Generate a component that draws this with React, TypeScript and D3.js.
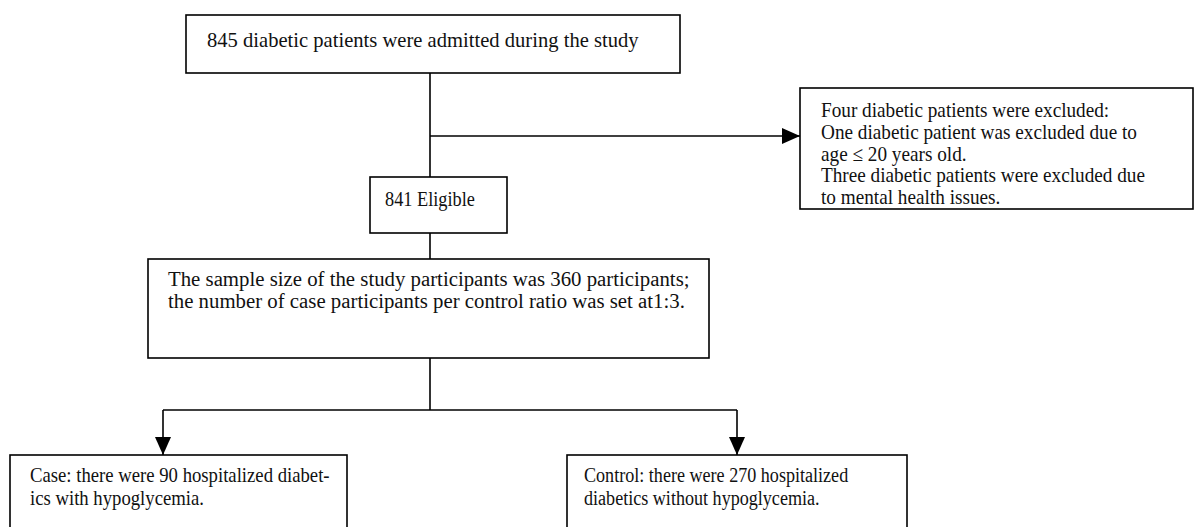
import { useEffect, useRef } from 'react';
import * as d3 from 'd3';

// box texts (one entry per line)
const admitted = ['845 diabetic patients were admitted during the study'];
const excluded = [
  'Four diabetic patients were excluded:',
  'One diabetic patient was excluded due to',
  'age \u2264 20 years old.',
  'Three diabetic patients were excluded due',
  'to mental health issues.',
];
const eligible = ['841 Eligible'];
const sample = [
  'The sample size of the study participants was 360 participants;',
  'the number of case participants per control ratio was set at1:3.',
];
const caseGroup = ['Case: there were 90 hospitalized diabet-', 'ics with hypoglycemia.'];
const controlGroup = ['Control: there were 270 hospitalized', 'diabetics without hypoglycemia.'];

const W = 1194;
const H = 527;

const App = () => {
  const svgRef = useRef<SVGSVGElement>(null);

  useEffect(() => {
    const svg = d3.select(svgRef.current);
    svg.selectAll('*').remove();

    const font = '"Liberation Serif", "Times New Roman", serif';
    const fs = 20.8;

    svg.append('defs').append('marker')
      .attr('id', 'head')
      .attr('viewBox', '0 0 18 16')
      .attr('refX', 18).attr('refY', 8)
      .attr('markerWidth', 18).attr('markerHeight', 16)
      .attr('markerUnits', 'userSpaceOnUse')
      .attr('orient', 'auto')
      .append('path').attr('d', 'M0,0 L18,8 L0,16 Z').attr('fill', '#000');

    // layout of each box: rect, text origin, horizontal squeeze, line height
    const boxes = [
      { lines: admitted, x: 186, y: 15, w: 494, h: 58, tx: 207, ty: 47, sx: 0.99, lh: 22 },
      { lines: excluded, x: 800, y: 88, w: 393, h: 121, tx: 821, ty: 117, sx: 0.925, lh: 21.8 },
      { lines: eligible, x: 370, y: 177, w: 137, h: 56, tx: 385, ty: 206, sx: 0.88, lh: 22 },
      { lines: sample, x: 148, y: 259, w: 561, h: 99, tx: 168, ty: 286, sx: 1, lh: 22.3 },
      { lines: caseGroup, x: 10, y: 455, w: 337, h: 80, tx: 30, ty: 482, sx: 0.9, lh: 22.5 },
      { lines: controlGroup, x: 567, y: 455, w: 340, h: 80, tx: 584, ty: 482, sx: 0.87, lh: 22.5 },
    ];

    const links: [number, number][][] = [
      [[430, 73], [430, 177]],
      [[430, 233], [430, 259]],
      [[430, 358], [430, 410]],
      [[163, 410], [737, 410]],
    ];
    const arrows: [number, number][][] = [
      [[430, 136], [800, 136]],
      [[163, 410], [163, 455]],
      [[737, 410], [737, 455]],
    ];

    const line = d3.line();

    svg.selectAll('path.link')
      .data(links)
      .enter()
      .append('path')
      .attr('class', 'link')
      .attr('d', d => line(d))
      .attr('fill', 'none')
      .attr('stroke', '#000')
      .attr('stroke-width', 1.6);

    svg.selectAll('path.arrow')
      .data(arrows)
      .enter()
      .append('path')
      .attr('class', 'arrow')
      .attr('d', d => line(d))
      .attr('fill', 'none')
      .attr('stroke', '#000')
      .attr('stroke-width', 1.6)
      .attr('marker-end', 'url(#head)');

    const g = svg.selectAll('g.box')
      .data(boxes)
      .enter()
      .append('g')
      .attr('class', 'box');

    g.append('rect')
      .attr('x', d => d.x)
      .attr('y', d => d.y)
      .attr('width', d => d.w)
      .attr('height', d => d.h)
      .attr('fill', '#fff')
      .attr('stroke', '#000')
      .attr('stroke-width', 1.6);

    g.each(function (d) {
      d3.select(this).selectAll('text')
        .data(d.lines)
        .enter()
        .append('text')
        .attr('transform', (_, i) => `translate(${d.tx},${d.ty + i * d.lh}) scale(${d.sx},1)`)
        .style('font-family', font)
        .style('font-size', `${fs}px`)
        .attr('fill', '#111')
        .text(t => t);
    });
  }, []);

  return (
    <svg
      ref={svgRef}
      width={W}
      height={H}
      style={{ position: 'absolute', left: 0, top: 0, background: '#fff' }}
    />
  );
};

export default App;
